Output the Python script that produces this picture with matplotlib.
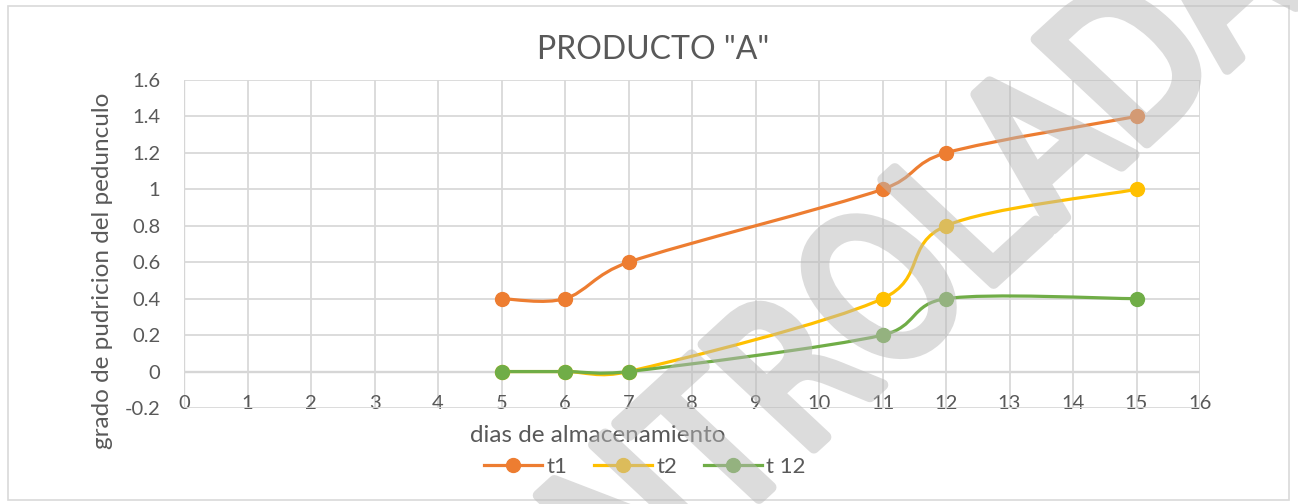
import numpy as np
import matplotlib
matplotlib.use("Agg")
import matplotlib.pyplot as plt
from matplotlib.path import Path
from matplotlib.patches import PathPatch, Rectangle
from matplotlib.lines import Line2D
from matplotlib.textpath import TextPath
from matplotlib.font_manager import FontProperties
from matplotlib.transforms import Affine2D

## datos ##
dias = [5, 6, 7, 11, 12, 15]
t1 = [0.4, 0.4, 0.6, 1.0, 1.2, 1.4]
t2 = [0.0, 0.0, 0.0, 0.4, 0.8, 1.0]
t12 = [0.0, 0.0, 0.0, 0.2, 0.4, 0.4]
series_names = ["t1", "t2", "t 12"]
series_colors = ["#ED7D31", "#FFC000", "#70AD47"]
x_ticks = list(range(0, 17))
y_ticks = [-0.2, 0, 0.2, 0.4, 0.6, 0.8, 1, 1.2, 1.4, 1.6]
y_tick_labels = ["-0.2", "0", "0.2", "0.4", "0.6", "0.8", "1", "1.2", "1.4", "1.6"]

plt.rcParams['font.family'] = ['Lato', 'DejaVu Sans']
txt_color = "#595959"
W, H = 1298, 504


def smooth_path(ax, xs, ys):
    '''curva suavizada tipo Excel: Bezier calculado en pixeles'''
    pts = ax.transData.transform(np.column_stack([xs, ys]))
    n = len(pts)
    verts = [pts[0]]
    codes = [Path.MOVETO]
    for i in range(n - 1):
        p0 = pts[max(i - 1, 0)]
        p1 = pts[i]
        p2 = pts[i + 1]
        p3 = pts[min(i + 2, n - 1)]
        seg = np.hypot(*(p2 - p1))
        a1 = (p2 - p0) / 6
        a2 = (p3 - p1) / 6
        ## limitar el brazo a la mitad del segmento ##
        for a in (a1, a2):
            la = np.hypot(*a)
            if la > 0.5 * seg:
                a *= 0.5 * seg / la
        verts += [p1 + a1, p2 - a2, p2]
        codes += [Path.CURVE4] * 3
    verts = ax.transData.inverted().transform(np.array(verts))
    return Path(verts, codes)


def fade(im, dpi):
    im = im.copy()
    im[..., 3] *= 0.5
    return im, 0, 0


fig = plt.figure(figsize=(W / 100, H / 100), dpi=100)
ax = fig.add_axes([184 / W, 1 - 408 / H, (1200 - 184) / W, (408 - 80) / H])

ax.set_xlim(0, 16)
ax.set_ylim(-0.2, 1.6)
ax.set_xticks(x_ticks)
ax.set_yticks(y_ticks)
ax.set_yticklabels(y_tick_labels)
ax.grid(True, color="#d9d9d9", lw=1.3, zorder=0)
ax.axhline(0, color="#bfbfbf", lw=1.6, zorder=1)
ax.axvline(0, color="#bfbfbf", lw=1.6, zorder=1)
for s in ax.spines.values():
    s.set_visible(False)
ax.tick_params(axis="both", length=0, labelsize=14.5, labelcolor=txt_color)
ax.tick_params(axis="x", pad=-9.5)
ax.tick_params(axis="y", pad=17)

for ys, name, col in zip([t1, t2, t12], series_names, series_colors):
    ax.add_patch(PathPatch(smooth_path(ax, dias, ys), fill=False, edgecolor=col,
                           lw=2.3, zorder=3, capstyle="round"))
    ax.plot(dias, ys, "o", color=col, ms=10, zorder=4, clip_on=False)

## titulo y etiquetas ##
fig.text(653 / W, 1 - 50 / H, 'PRODUCTO "A"', ha="center", va="center",
         fontsize=23, color=txt_color)
fig.text(598 / W, 1 - 435 / H, "dias de almacenamiento", ha="center", va="center",
         fontsize=17.5, color=txt_color)
fig.text(103 / W, 1 - 271 / H, "grado de pudricion del pedunculo", ha="center",
         va="center", rotation=90, fontsize=17.5, color=txt_color)

handles = [Line2D([0], [0], color=c, lw=2.3, marker="o", ms=10) for c in series_colors]
fig.legend(handles, series_names, loc="center", bbox_to_anchor=(645 / W, 1 - 467 / H),
           ncol=3, frameon=False, fontsize=16, handlelength=2.6, handletextpad=0.2,
           columnspacing=1.2, labelcolor=txt_color)

## borde del grafico ##
fig.patches.append(Rectangle((8 / W, 1 - 500 / H), (1289 - 8) / W, (500 - 6) / H,
                             transform=fig.transFigure, fill=False,
                             edgecolor="#d9d9d9", lw=1.2))

## marca de agua ##
tp = TextPath((0, 0), "CONTROLADA", size=200, prop=FontProperties(family="DejaVu Sans"))
tr = Affine2D().scale(0.79, 1).rotate_deg(44.7).scale(1.08, 1).translate(457, -271)
wm = PathPatch(tp, transform=tr, facecolor="#b9b9b9", edgecolor="#b9b9b9", lw=8,
               joinstyle="round", capstyle="round", zorder=10)
wm.set_agg_filter(fade)
fig.add_artist(wm)

plt.savefig("out.png", dpi=100)
